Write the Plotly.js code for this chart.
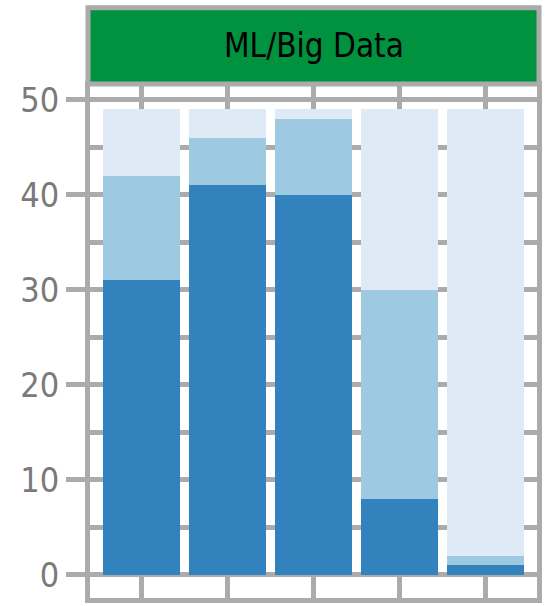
<!DOCTYPE html>
<html>
<head>
<meta charset="utf-8">
<script src="https://cdn.plot.ly/plotly-3.0.1.min.js"></script>
<style>html,body{margin:0;padding:0;background:#fff;}#chart{width:551px;height:606px;}</style>
</head>
<body>
<div id="chart"></div>
<script>
// Data (stacked counts per category)
const categories = ["1", "2", "3", "4", "5"];
const seriesNames = ["Dark", "Medium", "Light"];
const darkValues = [31, 41, 40, 8, 1];
const mediumValues = [11, 5, 8, 22, 1];
const lightValues = [7, 3, 1, 19, 47];
const yTickVals = [0, 10, 20, 30, 40, 50];
const panelTitle = "ML/Big Data";

const colors = ["#3182bd", "#9ecae1", "#deebf7"];
const gridCol = "#ababab";
const fontFam = "'Liberation Sans Narrow', 'DejaVu Sans Condensed', 'Roboto Condensed', sans-serif";

const traces = [darkValues, mediumValues, lightValues].map((vals, i) => ({
  type: "bar",
  x: categories,
  y: vals,
  name: seriesNames[i],
  marker: {color: colors[i], line: {width: 0}},
  hoverinfo: "x+y+name"
}));

const layout = {
  width: 551,
  height: 606,
  margin: {l: 90, r: 14, t: 86, b: 8},
  paper_bgcolor: "#ffffff",
  plot_bgcolor: "#ffffff",
  barmode: "stack",
  bargap: 0.1,
  showlegend: false,
  font: {family: fontFam, color: "#7a7a7a"},
  xaxis: {
    type: "category",
    range: [-0.6, 4.6],
    showticklabels: false,
    ticks: "",
    showgrid: true,
    gridcolor: gridCol,
    gridwidth: 5,
    showline: true,
    mirror: true,
    linecolor: gridCol,
    linewidth: 5,
    zeroline: false,
    fixedrange: true
  },
  yaxis: {
    range: [-2.45, 51.45],
    tickmode: "array",
    tickvals: yTickVals,
    ticktext: yTickVals.map(String),
    ticks: "outside",
    ticklen: 19,
    tickwidth: 5,
    tickcolor: gridCol,
    tickfont: {size: 34, color: "#7a7a7a", family: fontFam},
    showgrid: true,
    gridcolor: gridCol,
    gridwidth: 5,
    minor: {dtick: 5, tick0: 0, showgrid: true, gridcolor: gridCol, gridwidth: 5, ticks: ""},
    showline: true,
    mirror: true,
    linecolor: gridCol,
    linewidth: 5,
    zeroline: false,
    fixedrange: true
  },
  shapes: [{
    type: "rect",
    xref: "paper", yref: "paper",
    x0: -0.0045, x1: 1.0045,
    y0: 1.004, y1: 1.153,
    fillcolor: "#00923f",
    line: {color: gridCol, width: 5},
    layer: "above"
  }],
  annotations: [{
    text: panelTitle,
    xref: "paper", yref: "paper",
    x: 0.5, y: 1.080,
    xanchor: "center", yanchor: "middle",
    showarrow: false,
    font: {size: 33, color: "#000000", family: fontFam}
  }]
};

Plotly.newPlot("chart", traces, layout, {displayModeBar: false, staticPlot: true});
</script>
</body>
</html>
